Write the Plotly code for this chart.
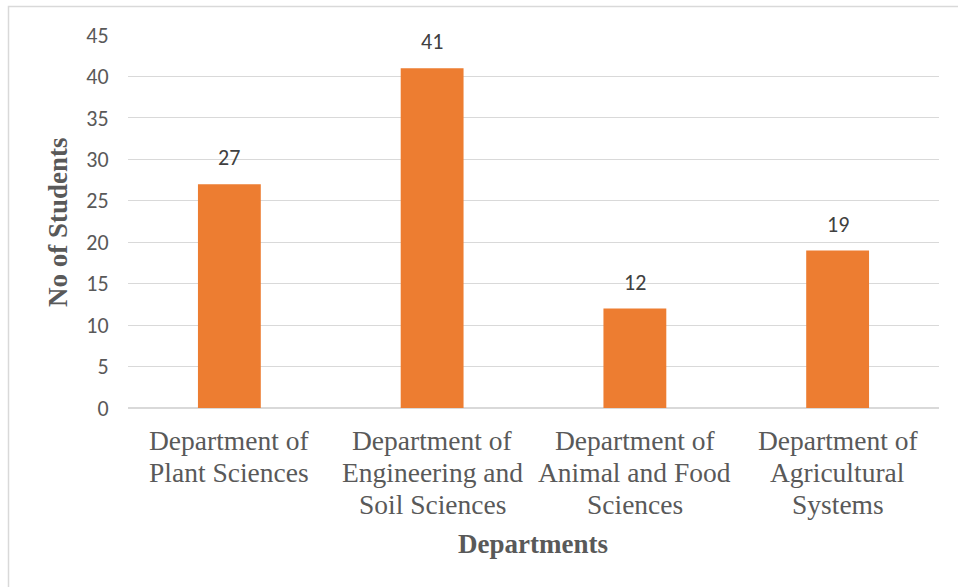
import plotly.graph_objects as go

categories = [
    "Department of Plant Sciences",
    "Department of Engineering and Soil Sciences",
    "Department of Animal and Food Sciences",
    "Department of Agricultural Systems",
]
tick_label_lines = [
    ["Department of", "Plant Sciences"],
    ["Department of", "Engineering and", "Soil Sciences"],
    ["Department of", "Animal and Food", "Sciences"],
    ["Department of", "Agricultural", "Systems"],
]
students = [27, 41, 12, 19]
y_ticks = [0, 5, 10, 15, 20, 25, 30, 35, 40, 45]

W, H = 958, 587
L, R, T, B = 128, 19, 35, 179
pw, ph = W - L - R, H - T - B

def px(x):
    return (x - L) / pw

def py(y):
    return (H - B - y) / ph

sans = "Carlito, Open Sans, sans-serif"
serif = "Liberation Serif, Times New Roman, serif"

fig = go.Figure()
fig.add_trace(go.Bar(
    x=categories, y=students,
    marker=dict(color="#ED7D31", line=dict(width=0)),
    hoverinfo="skip",
))

for c, v in zip(categories, students):
    fig.add_annotation(
        x=c, y=v, xref="x", yref="y", text=str(v), showarrow=False,
        yanchor="bottom", yshift=11,
        font=dict(family=sans, size=22, color="#404040"),
    )

# category labels, one annotation per line (tighter line spacing as in the reference)
line_centers = [440.5, 472.5, 504]
for c, lines in zip(categories, tick_label_lines):
    for i, t in enumerate(lines):
        fig.add_annotation(
            x=c, y=py(line_centers[i]), xref="x", yref="paper", text=t,
            showarrow=False, xanchor="center", yanchor="middle",
            font=dict(family=serif, size=27.5, color="#595959"),
        )

fig.add_annotation(
    x=px(58), y=py(222), xref="paper", yref="paper", text="<b>No of Students</b>",
    showarrow=False, textangle=-90, xanchor="center", yanchor="middle",
    font=dict(family=serif, size=27, color="#595959"),
)
fig.add_annotation(
    x=px(533), y=py(544), xref="paper", yref="paper", text="<b>Departments</b>",
    showarrow=False, xanchor="center", yanchor="middle",
    font=dict(family=serif, size=27, color="#595959"),
)

fig.add_shape(
    type="rect", xref="paper", yref="paper",
    x0=px(8.5), x1=px(975), y0=py(6.5), y1=py(600),
    line=dict(color="#D9D9D9", width=1.5), fillcolor="rgba(0,0,0,0)", layer="below",
)

fig.update_layout(
    width=W, height=H,
    margin=dict(l=L, r=R, t=T, b=B, pad=0),
    paper_bgcolor="white", plot_bgcolor="white",
    bargap=0.69, showlegend=False,
    xaxis=dict(
        showticklabels=False,
        showgrid=False, showline=False, zeroline=False, ticks="",
    ),
    yaxis=dict(
        range=[0, 45], tickmode="array", tickvals=y_ticks,
        tickfont=dict(family=sans, size=22, color="#595959"),
        showgrid=True, gridcolor="#D9D9D9", gridwidth=1.3,
        zeroline=True, zerolinecolor="#D9D9D9", zerolinewidth=1.5,
        showline=False, ticks="outside", ticklen=14, tickcolor="rgba(0,0,0,0)",
    ),
)

fig.write_html(
    "out.html",
    config={"displayModeBar": False},
    post_script="document.body.style.margin='0';document.body.style.overflow='hidden';",
)
